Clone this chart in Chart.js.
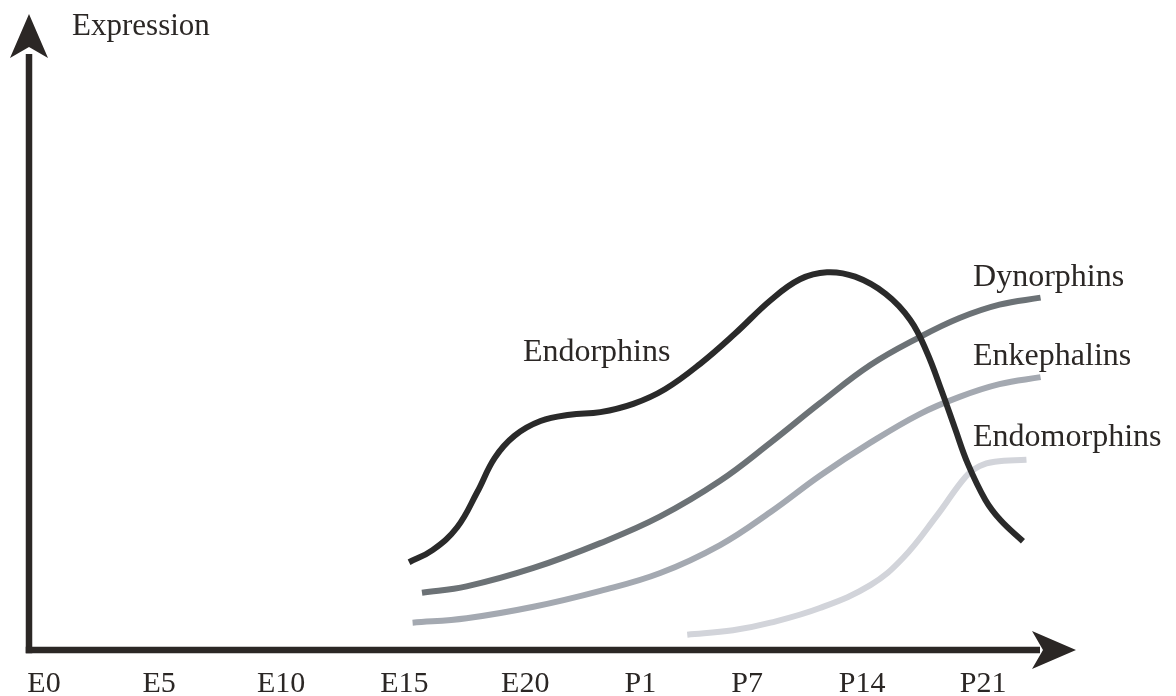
<!DOCTYPE html>
<html>
<head>
<meta charset="utf-8">
<script src="https://cdn.jsdelivr.net/npm/chart.js@4.4.1/dist/chart.umd.min.js"></script>
<style>
  html, body { margin: 0; padding: 0; background: #ffffff; }
  #wrap { width: 1176px; height: 696px; position: relative; }
</style>
</head>
<body>
<div id="wrap"><canvas id="c"></canvas></div>
<script>
// ---- Tick labels (developmental stages) ----
const tickLabels    = ['E0', 'E5', 'E10', 'E15', 'E20', 'P1', 'P7', 'P14', 'P21'];
const tickPositions = [0, 0.98, 2.02, 3.07, 4.10, 5.08, 5.99, 6.97, 8.0];

// ---- Series (x in stage units, y = relative expression 0-100) ----
const endorphinsX = [3.11, 3.31, 3.52, 3.69, 3.84, 4.01, 4.23, 4.48, 4.74, 5.02, 5.29, 5.59, 5.89, 6.19, 6.44, 6.67, 6.91, 7.17, 7.38, 7.52, 7.65, 7.76, 7.87, 8.02, 8.15, 8.34];
const endorphinsY = [13.8, 15.7, 19.3, 24.8, 30.2, 33.7, 36.0, 37.0, 37.4, 38.7, 41.0, 45.0, 49.8, 55.0, 58.3, 59.4, 58.7, 56.0, 51.9, 46.9, 40.6, 34.9, 29.3, 23.6, 20.4, 17.1];

const dynorphinsX = [3.22, 3.60, 4.17, 4.74, 5.25, 5.76, 6.19, 6.61, 7.04, 7.46, 7.80, 8.14, 8.49];
const dynorphinsY = [9.0, 10.0, 12.9, 16.8, 21.0, 26.6, 32.6, 38.8, 44.8, 49.2, 52.2, 54.3, 55.4];

const enkephalinsX = [3.14, 3.60, 4.17, 4.74, 5.25, 5.76, 6.19, 6.61, 7.04, 7.46, 7.80, 8.14, 8.49];
const enkephalinsY = [4.3, 5.0, 6.8, 9.3, 12.1, 16.5, 21.7, 27.4, 32.6, 37.1, 39.8, 41.8, 42.9];

const endomorphinsX = [5.48, 5.87, 6.19, 6.61, 7.04, 7.32, 7.61, 7.85, 7.97, 8.10, 8.37];
const endomorphinsY = [2.4, 3.1, 4.3, 6.6, 10.2, 14.5, 21.2, 27.2, 28.9, 29.6, 29.9];

const seriesNames = ['Endorphins', 'Dynorphins', 'Enkephalins', 'Endomorphins'];

// ---- Text annotations (anchor = left / baseline, in data units) ----
const annotations = [
  { text: 'Expression',   x: 0.239, y: 96.7, size: 31 },
  { text: 'Endorphins',   x: 4.08,  y: 45.4, size: 32 },
  { text: 'Dynorphins',   x: 7.915, y: 57.2, size: 32 },
  { text: 'Enkephalins',  x: 7.915, y: 44.8, size: 32 },
  { text: 'Endomorphins', x: 7.915, y: 32.1, size: 32 }
];

const FONT = '"Liberation Serif", "Times New Roman", serif';
const INK = '#2b2725';

function zip(xs, ys) { return xs.map((x, i) => ({ x: x, y: ys[i] })); }

const colors = ['#2a2a2a', '#6c7276', '#a4a9b1', '#d2d4da'];
const seriesData = [
  zip(endorphinsX, endorphinsY),
  zip(dynorphinsX, dynorphinsY),
  zip(enkephalinsX, enkephalinsY),
  zip(endomorphinsX, endomorphinsY)
];

const axesPlugin = {
  id: 'axesArrows',
  beforeDatasetsDraw(chart) {
    const ctx = chart.ctx;
    const a = chart.chartArea;
    const x0 = a.left, y0 = a.bottom;
    ctx.save();
    ctx.fillStyle = INK;
    ctx.strokeStyle = INK;
    ctx.lineWidth = 6.5;
    ctx.lineCap = 'butt';
    ctx.beginPath();
    ctx.moveTo(x0, y0 + 3.25);
    ctx.lineTo(x0, a.top + 40);
    ctx.stroke();
    ctx.beginPath();
    ctx.moveTo(x0 - 3.25, y0);
    ctx.lineTo(a.right - 36, y0);
    ctx.stroke();
    ctx.beginPath();
    ctx.moveTo(x0, a.top);
    ctx.lineTo(x0 + 19, a.top + 44);
    ctx.lineTo(x0, a.top + 33);
    ctx.lineTo(x0 - 19, a.top + 44);
    ctx.closePath();
    ctx.fill();
    ctx.beginPath();
    ctx.moveTo(a.right, y0);
    ctx.lineTo(a.right - 44, y0 - 19);
    ctx.lineTo(a.right - 33, y0);
    ctx.lineTo(a.right - 44, y0 + 19);
    ctx.closePath();
    ctx.fill();
    ctx.restore();
  },
  afterDraw(chart) {
    const ctx = chart.ctx;
    const xs = chart.scales.x, ys = chart.scales.y;
    ctx.save();
    ctx.fillStyle = INK;
    ctx.textAlign = 'left';
    ctx.textBaseline = 'alphabetic';
    annotations.forEach(an => {
      ctx.font = an.size + 'px ' + FONT;
      ctx.fillText(an.text, xs.getPixelForValue(an.x), ys.getPixelForValue(an.y));
    });
    ctx.restore();
  }
};

new Chart(document.getElementById('c'), {
  type: 'line',
  data: {
    datasets: seriesNames.map((name, i) => ({
      label: name,
      data: seriesData[i],
      borderColor: colors[i],
      borderWidth: 6,
      borderCapStyle: 'butt',
      pointRadius: 0,
      fill: false,
      tension: 0.4,
      clip: false
    }))
  },
  options: {
    responsive: true,
    maintainAspectRatio: false,
    animation: false,
    layout: { padding: { left: 29, right: 100, top: 14, bottom: 0 } },
    plugins: { legend: { display: false }, tooltip: { enabled: false } },
    scales: {
      x: {
        type: 'linear',
        min: -0.128,
        max: 8.792,
        grid: { display: false, drawTicks: false },
        border: { display: false },
        afterBuildTicks: s => { s.ticks = tickPositions.map(v => ({ value: v })); },
        afterFit: s => { s.height = 46; s.paddingLeft = 0; s.paddingRight = 0; },
        ticks: {
          autoSkip: false,
          maxRotation: 0,
          padding: 16,
          color: INK,
          font: { family: FONT, size: 30 },
          callback: (v, i) => tickLabels[i]
        }
      },
      y: {
        type: 'linear',
        display: false,
        min: 0,
        max: 100
      }
    }
  },
  plugins: [axesPlugin]
});
</script>
</body>
</html>
